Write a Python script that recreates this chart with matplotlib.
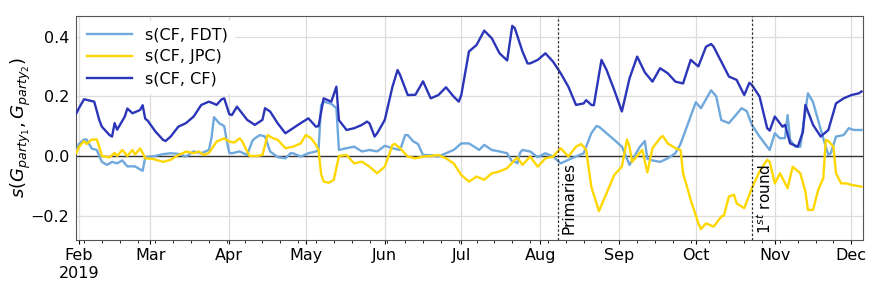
import matplotlib
matplotlib.use("Agg")
import matplotlib.pyplot as plt
import matplotlib.dates as mdates
import pandas as pd
import numpy as np

# ---- data (day offsets from 2019-02-01, values) ----
cf_days = [-1, 0, 2, 3, 6, 8, 9, 12, 13, 14, 15, 18, 19, 21, 24, 25, 26, 27, 30, 33, 34, 36, 39, 42,
           45, 48, 51, 53, 54, 56, 57, 59, 60, 62, 63, 66, 69, 72, 73, 75, 78, 81, 84, 87, 90, 93, 94,
           96, 99, 101, 102, 105, 108, 111, 113, 114, 116, 117, 120, 123, 125, 126, 129, 132, 135,
           138, 141, 144, 147, 149, 150, 153, 156, 159, 162, 165, 168, 170, 171, 174, 176, 177, 180,
           183, 186, 189, 192, 195, 198, 199, 201, 202, 205, 207, 210, 213, 216, 219, 222, 225, 228,
           231, 234, 237, 240, 243, 246, 248, 249, 252, 255, 258, 261, 263, 264, 267, 270, 271, 273,
           276, 277, 279, 282, 284, 285, 288, 291, 294, 297, 300, 303, 306, 307]
cf_vals = [0.143, 0.160, 0.190, 0.188, 0.182, 0.120, 0.098, 0.070, 0.065, 0.110, 0.088, 0.132, 0.159,
           0.143, 0.154, 0.170, 0.125, 0.118, 0.082, 0.054, 0.050, 0.065, 0.098, 0.110,
           0.132, 0.171, 0.182, 0.175, 0.171, 0.190, 0.193, 0.140, 0.137, 0.165, 0.154, 0.121, 0.104,
           0.121, 0.160, 0.149, 0.109, 0.076, 0.093, 0.110, 0.126, 0.098, 0.100,
           0.193, 0.182, 0.232, 0.120, 0.087, 0.093, 0.104, 0.115, 0.109, 0.065, 0.076, 0.121, 0.232,
           0.288, 0.271, 0.204, 0.205, 0.250,
           0.193, 0.204, 0.230, 0.199, 0.182, 0.204, 0.350, 0.372, 0.420, 0.394, 0.344, 0.320, 0.436,
           0.428, 0.350, 0.310, 0.310, 0.322,
           0.344, 0.316, 0.277, 0.232, 0.171, 0.176, 0.187, 0.171, 0.170, 0.322, 0.288, 0.221, 0.149,
           0.260, 0.333, 0.280, 0.249, 0.294,
           0.277, 0.249, 0.243, 0.322, 0.300, 0.366, 0.375, 0.366, 0.316, 0.266, 0.255, 0.204, 0.245,
           0.238, 0.199, 0.093, 0.085, 0.132,
           0.098, 0.104, 0.042, 0.031, 0.080, 0.171, 0.104, 0.065, 0.087, 0.176, 0.193, 0.204, 0.210,
           0.216]

fdt_days = [-1, 0, 2, 3, 5, 7, 9, 11, 13, 15, 17, 19, 22, 24, 25, 26, 30, 33, 36, 39, 42, 45, 48, 51,
            52, 53, 55, 57, 58, 59, 60, 63, 66, 68, 69, 71, 73, 75, 78, 81, 83, 84, 87, 90, 93, 94, 95,
            96, 99, 101, 102, 105, 108, 111, 114, 117, 120, 123, 126, 128, 129, 131, 133, 135, 138,
            141, 144, 147, 150, 153, 156, 157, 159, 162, 165, 168, 170, 171, 172, 173, 174, 177, 180,
            183, 186, 189, 192, 195, 198, 201, 203, 204, 207, 210, 213, 216, 218, 220, 222, 223, 225,
            228, 231, 234, 236, 239, 242, 244, 246, 248, 250, 252, 255, 258, 260, 262, 264, 267, 269,
            271, 273, 275, 277, 278, 279, 281, 283, 286, 288, 290, 292, 294, 295, 297, 300, 302, 304,
            307]
fdt_vals = [0.015, 0.040, 0.055, 0.055, 0.025, 0.020, -0.020, -0.030, -0.020, -0.025, -0.015, -0.035,
            -0.035, -0.045, -0.050, -0.005, 0.000, 0.006, 0.009, 0.007, -0.002, 0.015, 0.009, 0.020,
            0.060, 0.130, 0.110, 0.100, 0.050, 0.010, 0.009, 0.015, 0.003, 0.050, 0.059, 0.070, 0.065,
            0.015, -0.004, -0.008, 0.009, 0.009, -0.002, 0.009, 0.015, 0.020, 0.170,
            0.182, 0.175, 0.160, 0.020, 0.026, 0.031, 0.015, 0.020, 0.015, 0.034, 0.026, 0.020, 0.070,
            0.070, 0.050, 0.040, 0.003, 0.003,
            -0.002, 0.009, 0.020, 0.042, 0.042, 0.026, 0.020, 0.037, 0.020, 0.015, 0.009, -0.020,
            -0.019, -0.025, 0.010, 0.020, 0.015, -0.004,
            0.009, -0.002, -0.025, -0.013, -0.002, 0.009, 0.076, 0.100, 0.098, 0.076, 0.054, 0.031,
            -0.030, 0.000, 0.030, 0.050, -0.010, -0.015,
            -0.020, -0.008, 0.009, 0.040, 0.110, 0.180, 0.160, 0.190, 0.220, 0.200, 0.120, 0.110, 0.140,
            0.160, 0.150, 0.104, 0.065, 0.042,
            0.020, 0.076, 0.059, 0.060, 0.137, 0.054, 0.031, 0.031, 0.210, 0.180, 0.120, 0.059, 0.003,
            0.010, 0.065, 0.070, 0.093, 0.087,
            0.087]

jpc_days = [-1, 0, 2, 3, 5, 7, 8, 9, 12, 14, 15, 17, 19, 21, 22, 24, 25, 26, 29, 31, 33, 36, 39, 41,
            42, 45, 47, 49, 51, 54, 57, 59, 61, 63, 64, 66, 67, 70, 72, 74, 76, 78, 81, 84, 87, 89, 91,
            93, 94, 95, 96, 98, 100, 101, 102, 105, 108, 111, 114, 117, 120, 123, 124, 126, 129, 132,
            135, 138, 141, 144, 147, 150, 153, 156, 159, 162, 165, 168, 171, 172, 174, 177, 180, 183,
            186, 189, 192, 195, 197, 199, 201, 204, 207, 210, 213, 215, 216, 217, 219, 221, 223, 225,
            228, 229, 231, 234, 236, 237, 240, 243, 244, 246, 249, 252, 253, 255, 257, 258, 261, 264,
            267, 270, 271, 273, 275, 278, 280, 283, 285, 286, 288, 290, 292, 293, 294, 296, 297, 299,
            301, 303, 305, 307]
jpc_vals = [0.010, 0.030, 0.050, 0.040, 0.055, 0.055, 0.030, 0.000, -0.005, 0.010, 0.000, 0.020, 0.000,
            0.020, 0.005, 0.025, 0.010, -0.008, -0.010, -0.015, -0.020, -0.013, 0.003, 0.010,
            0.015, 0.009, 0.015, 0.003, 0.010, 0.048, 0.059, 0.048, 0.045, 0.059, 0.050, 0.015, 0.000,
            0.000, 0.003, 0.070, 0.060, 0.054, 0.026, 0.031, 0.042, 0.070, 0.060,
            0.037, 0.020, -0.060, -0.086, -0.090, -0.080, -0.040, 0.000, 0.003, -0.025, -0.019, -0.036,
            -0.058, -0.036, 0.037, 0.040, 0.026, -0.002, -0.008,
            -0.002, 0.000, 0.003, -0.008, -0.025, -0.064, -0.086, -0.069, -0.080, -0.058, -0.052,
            -0.041, -0.013, -0.005, -0.030, -0.002, -0.036, -0.008,
            -0.002, 0.026, -0.002, 0.031, 0.040, 0.020, -0.103, -0.185, -0.125, -0.064, -0.036, 0.055,
            0.030, -0.020, 0.000, 0.020, -0.055, 0.026,
            0.060, 0.067, 0.042, 0.026, 0.020, -0.058, -0.147, -0.226, -0.245, -0.226, -0.237, -0.203,
            -0.200, -0.136, -0.130, -0.159, -0.175, -0.108,
            -0.052, -0.013, -0.020, -0.092, -0.058, -0.108, -0.036, -0.058, -0.120, -0.181, -0.181,
            -0.114, -0.075, 0.054, 0.050, 0.031, -0.058, -0.092,
            -0.092, -0.097, -0.100, -0.103]

series_labels = ["s(CF, FDT)", "s(CF, JPC)", "s(CF, CF)"]
series_colors = ["#6fa8dc", "#ffd700", "#2b35b8"]
events = [("Primaries", 188), ("$1^{st}$ round", 264)]
start = pd.Timestamp("2019-02-01")


def to_dates(days):
    return start + pd.to_timedelta(np.array(days, dtype=float), unit="D")


fig = plt.figure(figsize=(8.72, 2.91), dpi=100)
ax = fig.add_axes([0.087, 0.175, 0.903, 0.770])

ax.grid(True, color="#dddddd", linewidth=0.9, zorder=0)
ax.axhline(0, color="#333333", linewidth=1.0, zorder=2)

for d, v, lab, col in zip([fdt_days, jpc_days, cf_days], [fdt_vals, jpc_vals, cf_vals],
                          series_labels, series_colors):
    ax.plot(to_dates(d), v, color=col, linewidth=1.7, label=lab, zorder=3)

for txt, d in events:
    xd = to_dates([d])[0]
    ax.axvline(xd, color="#333333", linestyle=(0, (2, 1.5)), linewidth=0.9, zorder=4)
    ax.text(xd + pd.Timedelta(days=1.2), -0.262, txt, rotation=90, ha="left", va="bottom",
            fontsize=11, zorder=5)

ax.set_xlim(to_dates([-1.2])[0], to_dates([307.7])[0])
ax.set_ylim(-0.282, 0.469)
ax.set_yticks([-0.2, 0.0, 0.2, 0.4])
ax.set_yticklabels(["\u22120.2", "0.0", "0.2", "0.4"])

ax.xaxis.set_major_locator(mdates.MonthLocator())
ax.xaxis.set_minor_locator(mdates.WeekdayLocator(byweekday=mdates.SU))


def fmt(x, pos):
    dt = mdates.num2date(x)
    s = dt.strftime("%b")
    if dt.month == 2:
        s += "\n2019"
    return s


ax.xaxis.set_major_formatter(plt.FuncFormatter(fmt))
ax.tick_params(axis="both", labelsize=11.5)
ax.tick_params(axis="y", length=0, pad=5)
ax.tick_params(axis="x", which="major", length=3, pad=3)
ax.tick_params(axis="x", which="minor", length=2)

for sp in ax.spines.values():
    sp.set_color("#555555")

ax.set_ylabel("$s(G_{party_1}, G_{party_2})$", fontsize=13)
ax.yaxis.set_label_coords(-0.055, 0.5)

leg = ax.legend(loc="upper left", fontsize=11.5, frameon=True, framealpha=1.0,
                edgecolor="white", borderaxespad=0.3, handlelength=2.8, labelspacing=0.45)

fig.savefig("out.png", dpi=100)
